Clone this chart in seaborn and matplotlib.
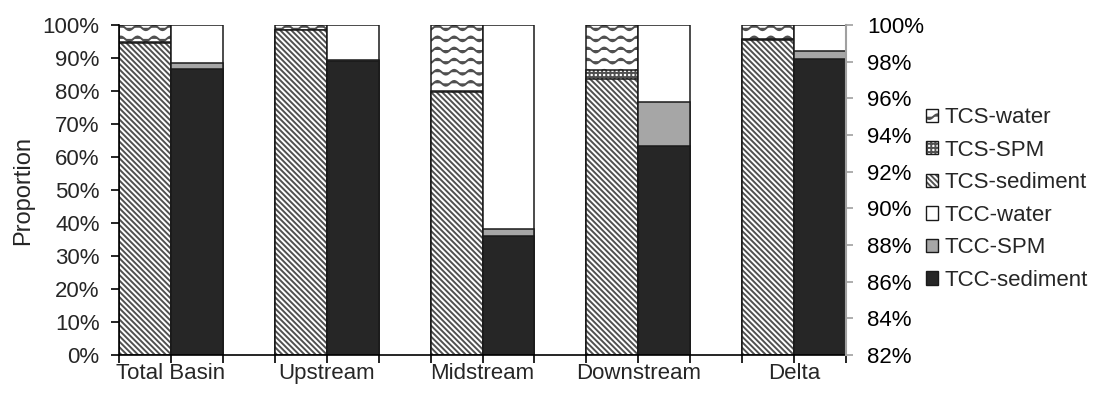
import warnings
import numpy as np
import pandas as pd
import matplotlib
matplotlib.use("Agg")
import matplotlib.pyplot as plt
import matplotlib.hatch as mhatch
from matplotlib.colors import to_rgba
from matplotlib.patches import Patch
from matplotlib.ticker import PercentFormatter
import seaborn as sns

warnings.filterwarnings("ignore", message=".*hatch must consist.*")

# ---- data -------------------------------------------------------------
regions = ["Total Basin", "Upstream", "Midstream", "Downstream", "Delta"]
tcs_sediment = [94.5, 98.4, 79.8, 83.7, 95.4]
tcs_spm = [0.5, 0.1, 0.3, 2.7, 0.5]
tcs_water = [5.0, 1.5, 19.9, 13.6, 4.1]
tcc_sediment = [86.7, 89.1, 36.0, 63.4, 89.8]
tcc_spm = [1.9, 0.3, 2.3, 13.4, 2.2]
tcc_water = [11.4, 10.6, 61.7, 23.2, 8.0]
left_ticks = list(range(0, 101, 10))
right_ticks = list(range(82, 101, 2))


# ---- wavy hatch ('~') --------------------------------------------------
class WaveHatch(mhatch.HatchPatternBase):
    periods = 6
    samples = 12

    def __init__(self, hatch, density):
        self.num_rows = hatch.count("~") * 3
        self.pts = self.periods * self.samples + 1
        self.num_vertices = self.num_rows * self.pts

    def set_vertices_and_codes(self, vertices, codes):
        x = np.linspace(0.0, 1.0, self.pts)
        for i in range(self.num_rows):
            y0 = (i + 0.5) / self.num_rows
            y = y0 + 0.024 * np.sin(2 * np.pi * self.periods * x)
            sl = slice(i * self.pts, (i + 1) * self.pts)
            vertices[sl, 0] = x
            vertices[sl, 1] = y
            codes[sl] = mhatch.Path.LINETO
            codes[i * self.pts] = mhatch.Path.MOVETO


if WaveHatch not in mhatch._hatch_types:
    mhatch._hatch_types.append(WaveHatch)

# ---- style ------------------------------------------------------------
sns.set_style("ticks")
plt.rcParams["font.family"] = ["Liberation Sans", "DejaVu Sans"]
plt.rcParams["hatch.linewidth"] = 1.4
plt.rcParams["axes.linewidth"] = 1.2

edge = "#1a1a1a"
hatch_ink = to_rgba("#505050")

fig = plt.figure(figsize=(10.97, 3.96), dpi=100)
ax = fig.add_axes([119 / 1097, 1 - 355 / 396, 727 / 1097, 330 / 396])

# slot layout: TCS bar, TCC bar, empty spacer for every region
order = []
tcs_slots, tcc_slots = [], []
for i, r in enumerate(regions):
    tcs_slots.append(f"{r} TCS")
    tcc_slots.append(f"{r} TCC")
    order += [f"{r} TCS", f"{r} TCC"]
    if i < len(regions) - 1:
        order.append(f"spacer {i}")

tcs = pd.DataFrame({"slot": tcs_slots, "sediment": tcs_sediment,
                    "spm": tcs_spm, "water": tcs_water})
tcc = pd.DataFrame({"slot": tcc_slots, "sediment": tcc_sediment,
                    "spm": tcc_spm, "water": tcc_water})
for df in (tcs, tcc):
    df["top_sediment"] = df["sediment"]
    df["top_spm"] = df["sediment"] + df["spm"]
    df["top_water"] = df["top_spm"] + df["water"]

styles = {
    ("TCS", "water"): dict(color="white", hatch="~~~"),
    ("TCS", "spm"): dict(color="white", hatch="++++"),
    ("TCS", "sediment"): dict(color="white", hatch="\\" * 6),
    ("TCC", "water"): dict(color="white", hatch=None),
    ("TCC", "spm"): dict(color="#a6a6a6", hatch=None),
    ("TCC", "sediment"): dict(color="#262626", hatch=None),
}

# stacked bars: draw cumulative tops from the highest layer down
for name, df in (("TCS", tcs), ("TCC", tcc)):
    for comp in ("water", "spm", "sediment"):
        st = styles[(name, comp)]
        n_before = len(ax.patches)
        sns.barplot(data=df, x="slot", y=f"top_{comp}", order=order,
                    width=1.0, color=st["color"], saturation=1,
                    hatch=st["hatch"], edgecolor=edge, linewidth=1.1,
                    errorbar=None, ax=ax)
        if st["hatch"]:
            for p in ax.patches[n_before:]:
                p._hatch_color = hatch_ink

ax.set_xlim(-0.5, len(order) - 0.5)
ax.set_ylim(0, 100)

# x axis: tick marks at every slot boundary, labels centred on each pair
ax.xaxis.remove_overlapping_locs = False
ax.set_xticks(np.arange(-0.5, len(order), 1.0))
ax.set_xticklabels([""] * (len(order) + 1))
ax.set_xticks([3 * i + 0.5 for i in range(len(regions))], minor=True)
ax.set_xticklabels(regions, minor=True)
ax.tick_params(axis="x", which="major", direction="out", length=6,
               width=1.2, color="black")
ax.tick_params(axis="x", which="minor", length=0, pad=6, labelsize=16)
ax.set_xlabel("")

ax.set_yticks(left_ticks)
ax.yaxis.set_major_formatter(PercentFormatter(decimals=0))
ax.tick_params(axis="y", direction="out", length=6, width=1.2,
               pad=8, labelsize=16, color="black")
ax.set_ylabel("Proportion", fontsize=17, labelpad=6)

for s in ("top", "right"):
    ax.spines[s].set_visible(False)
ax.spines["left"].set_color("black")
ax.spines["bottom"].set_color("black")

# secondary percentage scale on the right
ax2 = ax.twinx()
ax2.set_ylim(82, 100)
ax2.set_yticks(right_ticks)
ax2.yaxis.set_major_formatter(PercentFormatter(decimals=0))
ax2.tick_params(axis="y", direction="out", length=5, width=1.2,
                color="#a0a0a0", labelcolor="black", labelsize=16, pad=10)
for s in ("left", "top", "bottom"):
    ax2.spines[s].set_visible(False)
ax2.spines["right"].set_color("#a0a0a0")
ax2.spines["right"].set_linewidth(1.5)

# legend
labels = ["TCS-water", "TCS-SPM", "TCS-sediment",
          "TCC-water", "TCC-SPM", "TCC-sediment"]
keys = [("TCS", "water"), ("TCS", "spm"), ("TCS", "sediment"),
        ("TCC", "water"), ("TCC", "spm"), ("TCC", "sediment")]
handles = []
for k in keys:
    h = Patch(facecolor=styles[k]["color"], hatch=styles[k]["hatch"],
              edgecolor=edge, linewidth=1.0)
    if styles[k]["hatch"]:
        h._hatch_color = hatch_ink
    handles.append(h)
fig.legend(handles, labels, loc="center left",
           bbox_to_anchor=(926 / 1097, 1 - 199 / 396), frameon=False,
           fontsize=16, handlelength=0.55, handleheight=0.55,
           handletextpad=0.3, labelspacing=0.52, borderpad=0,
           borderaxespad=0)

fig.savefig("out.png", dpi=100)
